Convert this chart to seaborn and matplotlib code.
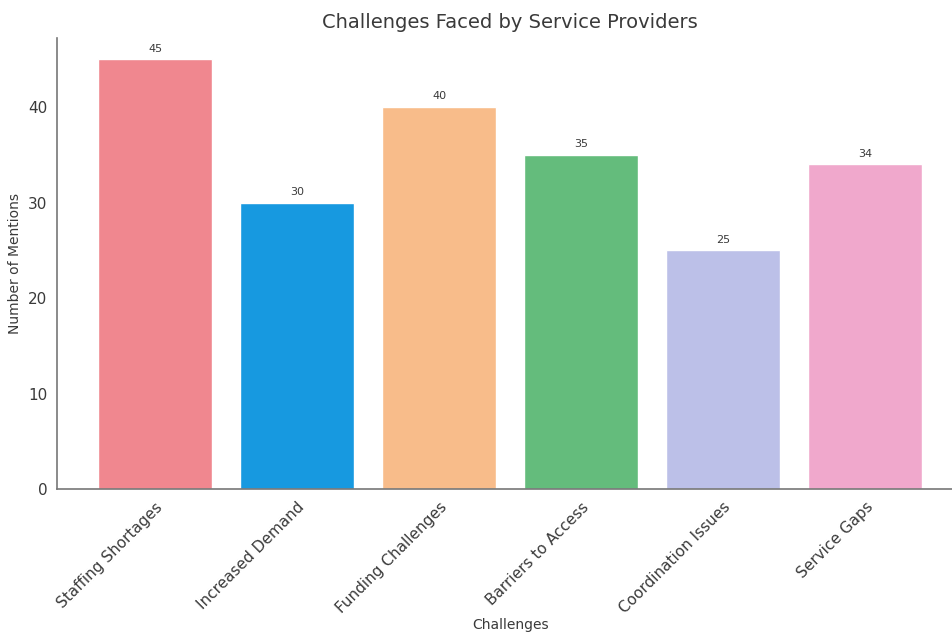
import matplotlib
matplotlib.use("Agg")
import matplotlib.pyplot as plt
import seaborn as sns
import pandas as pd

# data
challenges = ['Staffing Shortages', 'Increased Demand', 'Funding Challenges',
              'Barriers to Access', 'Coordination Issues', 'Service Gaps']
mentions = [45, 30, 40, 35, 25, 34]
bar_colors = ['#F0878F', '#1799E0', '#F8BC8A', '#64BC7C', '#BCC0E8', '#F0A8CC']

df = pd.DataFrame({'Challenges': challenges, 'Number of Mentions': mentions})

sns.set_style('white')
plt.rcParams['font.family'] = ['DejaVu Sans']
text_col = '#3a3a3a'

fig = plt.figure(figsize=(9.53, 6.39), dpi=100)
ax = fig.add_axes([0.0598, 0.2347, 0.951, 0.7058])

sns.barplot(data=df, x='Challenges', y='Number of Mentions', hue='Challenges',
            palette=bar_colors, legend=False, width=0.8, saturation=1, ax=ax)

ax.set_xlim(-0.69, 5.69)
ax.set_ylim(0, 47.25)
ax.set_yticks([0, 10, 20, 30, 40])

# value labels on top of bars
for i, v in enumerate(mentions):
    ax.text(i, v + 0.6, str(v), ha='center', va='bottom', fontsize=8, color=text_col)

ax.set_title('Challenges Faced by Service Providers', fontsize=14, color=text_col, pad=7)
ax.set_xlabel('Challenges', fontsize=10, color=text_col, labelpad=1)
ax.set_ylabel('Number of Mentions', fontsize=10, color=text_col, labelpad=4)
ax.set_xticks(range(len(challenges)))
ax.set_xticklabels(challenges, rotation=45, ha='right', rotation_mode='anchor', fontsize=11)

ax.tick_params(axis='both', colors='#555555', labelcolor=text_col, length=3.5, width=1)
ax.tick_params(axis='x', pad=4)
ax.tick_params(axis='y', labelsize=11)
sns.despine(ax=ax)
for s in ['left', 'bottom']:
    ax.spines[s].set_color('#777777')
    ax.spines[s].set_linewidth(1.2)

fig.savefig('out.png', dpi=100)
